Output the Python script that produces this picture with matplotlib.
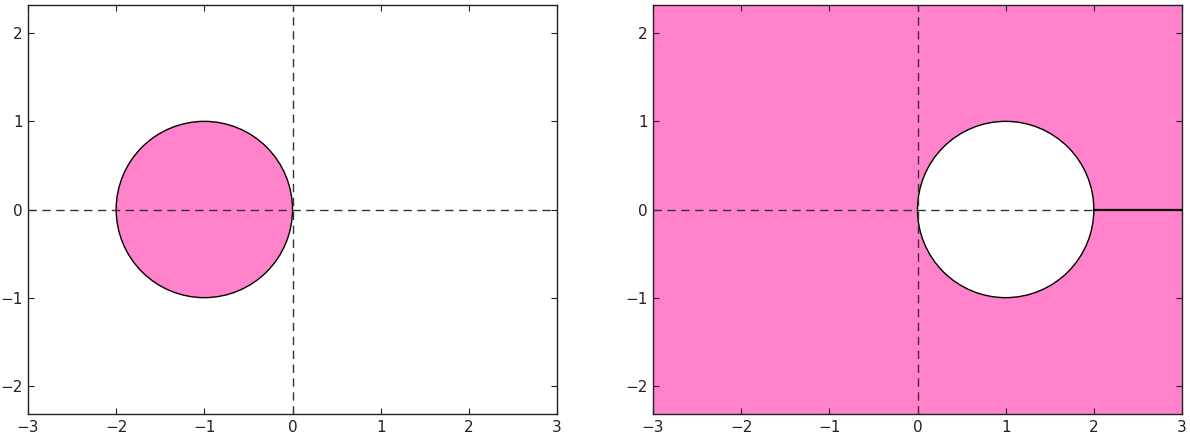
import numpy as np
import matplotlib
matplotlib.use("Agg")
import matplotlib.pyplot as plt
from matplotlib.patches import Circle

# Disk |z + 1| <= 1 on the left, region |z - 1| >= 1 on the right
centers = [(-1, 0), (1, 0)]
radii = [1, 1]
xticks = [-3, -2, -1, 0, 1, 2, 3]
yticks = [-2, -1, 0, 1, 2]
cut_x = [2, 3]  # branch cut on the real axis
pink = "#ff82cb"

fig = plt.figure(figsize=(11.9, 4.34), dpi=100)
ax1 = fig.add_axes([28/1190, 20/434, 529/1190, 409/434])
ax2 = fig.add_axes([653/1190, 20/434, 529/1190, 409/434])

for ax in (ax1, ax2):
    ax.set_xlim(-3, 3)
    ax.set_ylim(-2.32, 2.32)
    ax.set_xticks(xticks)
    ax.set_yticks(yticks)
    ax.set_xticklabels(["\u22123", "\u22122", "\u22121", "0", "1", "2", "3"])
    ax.set_yticklabels(["\u22122", "\u22121", "0", "1", "2"])
    ax.tick_params(direction="in", length=4, width=0.8, top=True, right=True,
                   labelsize=11, colors="#222222", pad=4)
    for s in ax.spines.values():
        s.set_linewidth(1.0)
        s.set_color("#222222")

# left panel
ax1.add_patch(Circle(centers[0], radii[0], facecolor=pink, edgecolor="black",
                     linewidth=1.0, zorder=2))
ax1.axhline(0, color="#333333", linestyle=(0, (6, 4)), linewidth=1.0, zorder=3)
ax1.axvline(0, color="#333333", linestyle=(0, (6, 4)), linewidth=1.0, zorder=3)

# right panel
ax2.set_facecolor(pink)
ax2.add_patch(Circle(centers[1], radii[1], facecolor="white", edgecolor="black",
                     linewidth=1.0, zorder=2))
ax2.plot([-3, 2], [0, 0], color="#333333", linestyle=(0, (6, 4)), linewidth=1.0, zorder=3)
ax2.axvline(0, color="#333333", linestyle=(0, (6, 4)), linewidth=1.0, zorder=3)
ax2.plot(cut_x, [0, 0], color="black", linewidth=1.6, zorder=3)

fig.savefig("out.png", dpi=100)
